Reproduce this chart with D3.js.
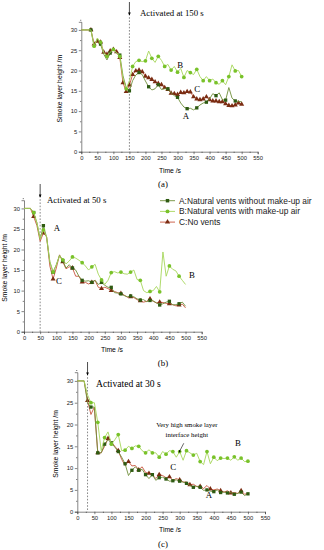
<!DOCTYPE html>
<html>
<head>
<meta charset="utf-8">
<script src="https://cdn.jsdelivr.net/npm/d3@7"></script>
<style>
  body { margin: 0; background: #fff; }
  svg { display: block; }
</style>
</head>
<body>
<svg></svg>
<script>
// time steps, s
const time = [0, 10, 20, 30, 40, 50, 60, 70, 80, 90, 100, 110, 120, 130, 140, 150,
  160, 170, 180, 190, 200, 210, 220, 230, 240, 250, 260, 270, 280, 290, 300,
  310, 320, 330, 340, 350, 360, 370, 380, 390, 400, 410, 420, 430, 440, 450,
  460, 470, 480, 490, 500]

// (a) activated at 150 s
const aA = [30, 30, 30, 30, 25.9, 27.8, 26.5, 24, 22.6, 24.3, 25.2, 24.2, 23.8, 18.7, 15.8, 15.0,
  17.5, 18.9, 19.5, 19, 17.4, 16, 15.2, 15.5, 16.5, 15.3, 15.5, 15.5, 14.5, 13.8, 13.4,
  12, 11, 10.6, 10.7, 10.3, 10.8, 11.5, 12, 12.2, 13, 14.3, 13.8, 14.5, 12.8, 12.7,
  15.8, 13.2, 12.5, 12.4, 12.3]
const aB = [30, 30, 30, 30, 26, 28, 27, 24.5, 23.5, 24.5, 25.2, 24.4, 23.5, 18, 15.5, 17.5,
  21, 22.2, 22.5, 22.2, 22.4, 24.8, 23, 22, 23.5, 22.5, 21, 21.5, 20.1, 21, 19.6,
  20.5, 18.3, 20, 19.5, 19, 20.3, 18.5, 17.5, 18.5, 17.5, 17.9, 17, 16.6, 17.5, 16.5,
  18.5, 21.4, 19.9, 20, 18.5]
const aC = [30, 30, 30, 30, 26.5, 27.2, 27, 24.5, 24, 24.8, 25.2, 24.6, 23.2, 17, 14.8, 16.4,
  19, 19.9, 20.1, 19.7, 18.6, 18.2, 17.8, 17.2, 16.8, 16.5, 15.8, 15.3, 14.4, 14.3, 14.1,
  14.6, 14.5, 14.8, 14.7, 13.5, 13, 12.8, 13, 13.5, 12.8, 12.5, 12.5, 12.3, 12.3, 11.8,
  11.4, 11.3, 11.5, 12, 11.7]

// (b) activated at 50 s
const bA = [30, 30, 30, 29, 26.5, 22.5, 25.8, 23, 17, 14.5, 16.3, 18.6, 17.3, 15.5, 16.3, 15.5,
  15, 13.5, 12.5, 12.3, 12.4, 12, 12.5, 11.5, 12, 11.3, 10.8, 10.8, 9.5, 9.4, 9.2,
  8.8, 8.5, 8.7, 8.5, 8.0, 7.7, 7.8, 7.3, 7.6, 7.5, 7, 6.5, 6.8, 7.2, 7.4,
  6.5, 6.6, 6.8, 7.2, 6.2]
const bB = [30, 30, 30, 29, 26.5, 22.5, 24.8, 23, 17, 14.5, 16.2, 18.5, 17.5, 16.5, 17.2, 18.2,
  17.9, 17.4, 16.8, 16, 15, 15.8, 16.4, 14, 12.6, 11.5, 12.5, 14.4, 14.6, 14.3, 14.5,
  14.1, 14, 14.5, 15, 12.7, 12.5, 10, 9.5, 9.8, 10, 11, 9.7, 19.4, 13.5, 16,
  15.2, 14.8, 13.5, 12.5, 11.5]
const bC = [30, 30, 30, 28, 25.8, 22, 24, 23.1, 16, 12.8, 15.5, 18.7, 17, 15.3, 15.8, 15.5,
  13.5, 13.5, 12.1, 12, 11.6, 12, 12.5, 10.8, 10.5, 10.8, 10.5, 10, 9.8, 9.5, 9.3,
  8.9, 8.4, 8.5, 8.3, 7.8, 7.5, 7.2, 7.4, 8, 7.4, 7, 7.2, 7.1, 6.9, 6.8,
  6.6, 6.3, 6.5, 6.7, 5.8]

// (c) activated at 30 s
const cA = [30, 30, 30, 25, 24, 24, 13.5, 13.5, 15.5, 16.5, 15.8, 14.8, 13.8, 12.5, 11, 8.3,
  9.5, 10.3, 9.5, 9.7, 8.5, 7.6, 8.5, 7.2, 7.8, 7.9, 7.5, 7, 7.1, 7.3, 7,
  6.8, 6.5, 6, 5.6, 5.8, 5.6, 4.9, 5, 4.7, 4.6, 5, 4.4, 4.5, 4.3, 4.4,
  4, 4.2, 4.5, 3.7, 4.1]
const cB = [30, 30, 30, 26.8, 25, 25, 20.5, 14, 17, 18.3, 15.5, 16.5, 17.7, 14, 14.1, 15,
  14.5, 15.1, 15, 14, 13.5, 14.2, 13.5, 13.5, 12.5, 13.8, 13.2, 14, 13.8, 12.5, 13.8,
  11.8, 14, 13.5, 13, 13.4, 11.5, 10.8, 13.8, 11, 12.5, 11.7, 12.3, 12.2, 12.3, 11.8,
  12.6, 11.8, 12.3, 11.5, 11.6]
const cC = [30, 30, 30, 25.5, 22.3, 24, 13.5, 13.5, 15, 16.8, 16, 15, 14, 12, 10.6, 11.5,
  10.5, 10.6, 9.6, 10.3, 9, 8.8, 8.5, 7.6, 8.5, 8.3, 7.8, 8, 7.2, 7.6, 7.3,
  6.8, 6.8, 6.2, 6.3, 5.8, 5.8, 5.3, 6, 5.2, 5, 5.2, 4.8, 4.5, 4.8, 4.3,
  4.4, 4.2, 4.8, 4, 4.2]

const xTicks = [0, 50, 100, 150, 200, 250, 300, 350, 400, 450, 500, 550]
const yTicks = [0, 5, 10, 15, 20, 25, 30]
const legendLabels = ['A:Natural vents without make-up air', 'B:Natural vents with make-up air', 'C:No vents']

const svg = d3.select('svg').attr('width', 324).attr('height', 550)

const style = {
  A: {line: '#6f8f3a', mark: '#2e5a12', shape: d3.symbolSquare, size: 11},
  B: {line: '#a6d65a', mark: '#79c22a', shape: d3.symbolCircle, size: 11},
  C: {line: '#c8553d', mark: '#7a2c12', shape: d3.symbolTriangle, size: 11}
}

svg.append('defs').append('marker')
  .attr('id', 'arr').attr('viewBox', '0 0 10 10').attr('refX', 9).attr('refY', 5)
  .attr('markerWidth', 4).attr('markerHeight', 4).attr('orient', 'auto')
  .append('path').attr('d', 'M0,0 L10,5 L0,10 z').attr('fill', '#000')

const panels = [
  {tag: '(a)', left: 81.3, right: 257.7, bottom: 151.7, top: 21.8, act: 150, actText: 'Activated at 150 s',
    arrowTop: 2, textX: 140, textY: 16, actSize: 8.8, titleX: 62, timeX: 170, timeY: 173, tagY: 187,
    series: {A: aA, B: aB, C: aC}, every: {A: 3, B: 2, C: 1},
    notes: [['B', 308, 21.4], ['C', 361, 15.5], ['A', 326, 8.8]]},
  {tag: '(b)', left: 24, right: 201.7, bottom: 331.7, top: 200.2, act: 50, actText: 'Activated at 50 s',
    arrowTop: 184, textX: 47, textY: 203, actSize: 8.8, titleX: 7, timeX: 112, timeY: 352, tagY: 366,
    series: {A: bA, B: bB, C: bC}, every: {A: 3, B: 3, C: 3},
    notes: [['A', 102, 25.2], ['C', 108, 12.3], ['B', 520, 13.8]]},
  {tag: '(c)', left: 77.3, right: 265, bottom: 511.7, top: 372.2, act: 30, actText: 'Activated at 30 s',
    arrowTop: 362, textX: 96, textY: 387, actSize: 9.6, titleX: 58, timeX: 170, timeY: 532, tagY: 547,
    series: {A: cA, B: cB, C: cC}, every: {A: 2, B: 2, C: 3},
    notes: [['B', 471, 15.8], ['C', 281, 10.3], ['A', 386, 3.8]]}
]

panels.forEach(p => {
  const x = d3.scaleLinear().domain([0, 550]).range([p.left, p.right])
  const y = d3.scaleLinear().domain([0, 32]).range([p.bottom, p.top])
  const g = svg.append('g')

  g.append('g').attr('transform', `translate(0,${p.bottom})`)
    .call(d3.axisBottom(x).tickValues(xTicks).tickSize(2.5).tickPadding(1.5))
  g.append('g').attr('transform', `translate(0,${p.bottom})`)
    .call(d3.axisBottom(x).tickValues(xTicks.slice(0, -1).map(v => v + 25)).tickSize(1.3).tickFormat(''))
    .select('.domain').remove()
  g.append('g').attr('transform', `translate(${p.left},0)`)
    .call(d3.axisLeft(y).tickValues(yTicks).tickSize(2.5).tickPadding(1.5))
  g.append('g').attr('transform', `translate(${p.left},0)`)
    .call(d3.axisLeft(y).tickValues(yTicks.map(v => v + 2.5)).tickSize(1.3).tickFormat(''))
    .select('.domain').remove()
  g.selectAll('.tick text').attr('font-size', 5.8).attr('font-family', 'Liberation Sans, Arial').attr('fill', '#222')
  g.selectAll('.domain, .tick line').attr('stroke', '#333').attr('stroke-width', 0.6)

  g.append('text').attr('transform', `translate(${p.titleX},${(p.top + p.bottom) / 2 + 2}) rotate(-90)`)
    .attr('text-anchor', 'middle').attr('font-size', 6.8).attr('font-family', 'Liberation Sans, Arial')
    .text('Smoke layer height /m')
  g.append('text').attr('x', p.timeX).attr('y', p.timeY).attr('text-anchor', 'middle')
    .attr('font-size', 6.8).attr('font-family', 'Liberation Sans, Arial').text('Time /s')
  g.append('text').attr('x', 163).attr('y', p.tagY).attr('text-anchor', 'middle')
    .attr('font-size', 8.8).attr('font-family', 'Liberation Serif, Times New Roman').text(p.tag)

  // activation line + arrow
  g.append('line').attr('x1', x(p.act)).attr('x2', x(p.act)).attr('y1', p.arrowTop + 12).attr('y2', p.bottom)
    .attr('stroke', '#555').attr('stroke-width', 0.7).attr('stroke-dasharray', '1.6,1.6')
  g.append('line').attr('x1', x(p.act)).attr('x2', x(p.act)).attr('y1', p.arrowTop).attr('y2', p.arrowTop + 13)
    .attr('stroke', '#000').attr('stroke-width', 0.7).attr('marker-end', 'url(#arr)')
  g.append('text').attr('x', p.textX).attr('y', p.textY).attr('font-size', p.actSize)
    .attr('font-family', 'Liberation Serif, Times New Roman').text(p.actText)

  const line = d3.line().x((d, i) => x(time[i])).y(d => y(d))
  ;['C', 'A', 'B'].forEach(k => {
    const vals = p.series[k]
    g.append('path').datum(vals).attr('d', line).attr('fill', 'none')
      .attr('stroke', style[k].line).attr('stroke-width', 0.9)
    const sym = d3.symbol().type(style[k].shape).size(style[k].size)
    g.selectAll(null).data(vals.map((v, i) => [time[i], v]).filter((d, i) => i % p.every[k] === 0 && i > 2))
      .enter().append('path').attr('d', sym)
      .attr('transform', d => `translate(${x(d[0])},${y(d[1])})`)
      .attr('fill', style[k].mark)
  })

  g.selectAll(null).data(p.notes).enter().append('text')
    .attr('x', d => x(d[1])).attr('y', d => y(d[2]) + 3)
    .attr('text-anchor', 'middle').attr('font-size', 8.8)
    .attr('font-family', 'Liberation Serif, Times New Roman').text(d => d[0])

  p.x = x; p.y = y
})

// legend in (b)
const lg = svg.append('g')
legendLabels.forEach((t, i) => {
  const k = ['A', 'B', 'C'][i]
  const ly = 200.7 + i * 10.7
  lg.append('line').attr('x1', 160).attr('x2', 175).attr('y1', ly).attr('y2', ly)
    .attr('stroke', style[k].line).attr('stroke-width', 0.9)
  lg.append('path').attr('d', d3.symbol().type(style[k].shape).size(12)())
    .attr('transform', `translate(167.5,${ly})`).attr('fill', style[k].mark)
  lg.append('text').attr('x', 179).attr('y', ly + 2.8).attr('font-size', 8.4)
    .attr('font-family', 'Liberation Sans, Arial').attr('fill', '#222').text(t)
})

// note in (c)
const pc = panels[2]
svg.append('text').attr('x', pc.x(321)).attr('y', pc.y(20) + 2).attr('text-anchor', 'middle')
  .attr('font-size', 6.8).attr('font-family', 'Liberation Serif, Times New Roman').text('Very high smoke layer')
svg.append('text').attr('x', pc.x(321)).attr('y', pc.y(17.7) + 2).attr('text-anchor', 'middle')
  .attr('font-size', 6.8).attr('font-family', 'Liberation Serif, Times New Roman').text('interface height')
svg.append('line').attr('x1', pc.x(312)).attr('y1', pc.y(15.7)).attr('x2', pc.x(298)).attr('y2', pc.y(13.6))
  .attr('stroke', '#000').attr('stroke-width', 0.6).attr('marker-end', 'url(#arr)')
</script>
</body>
</html>
